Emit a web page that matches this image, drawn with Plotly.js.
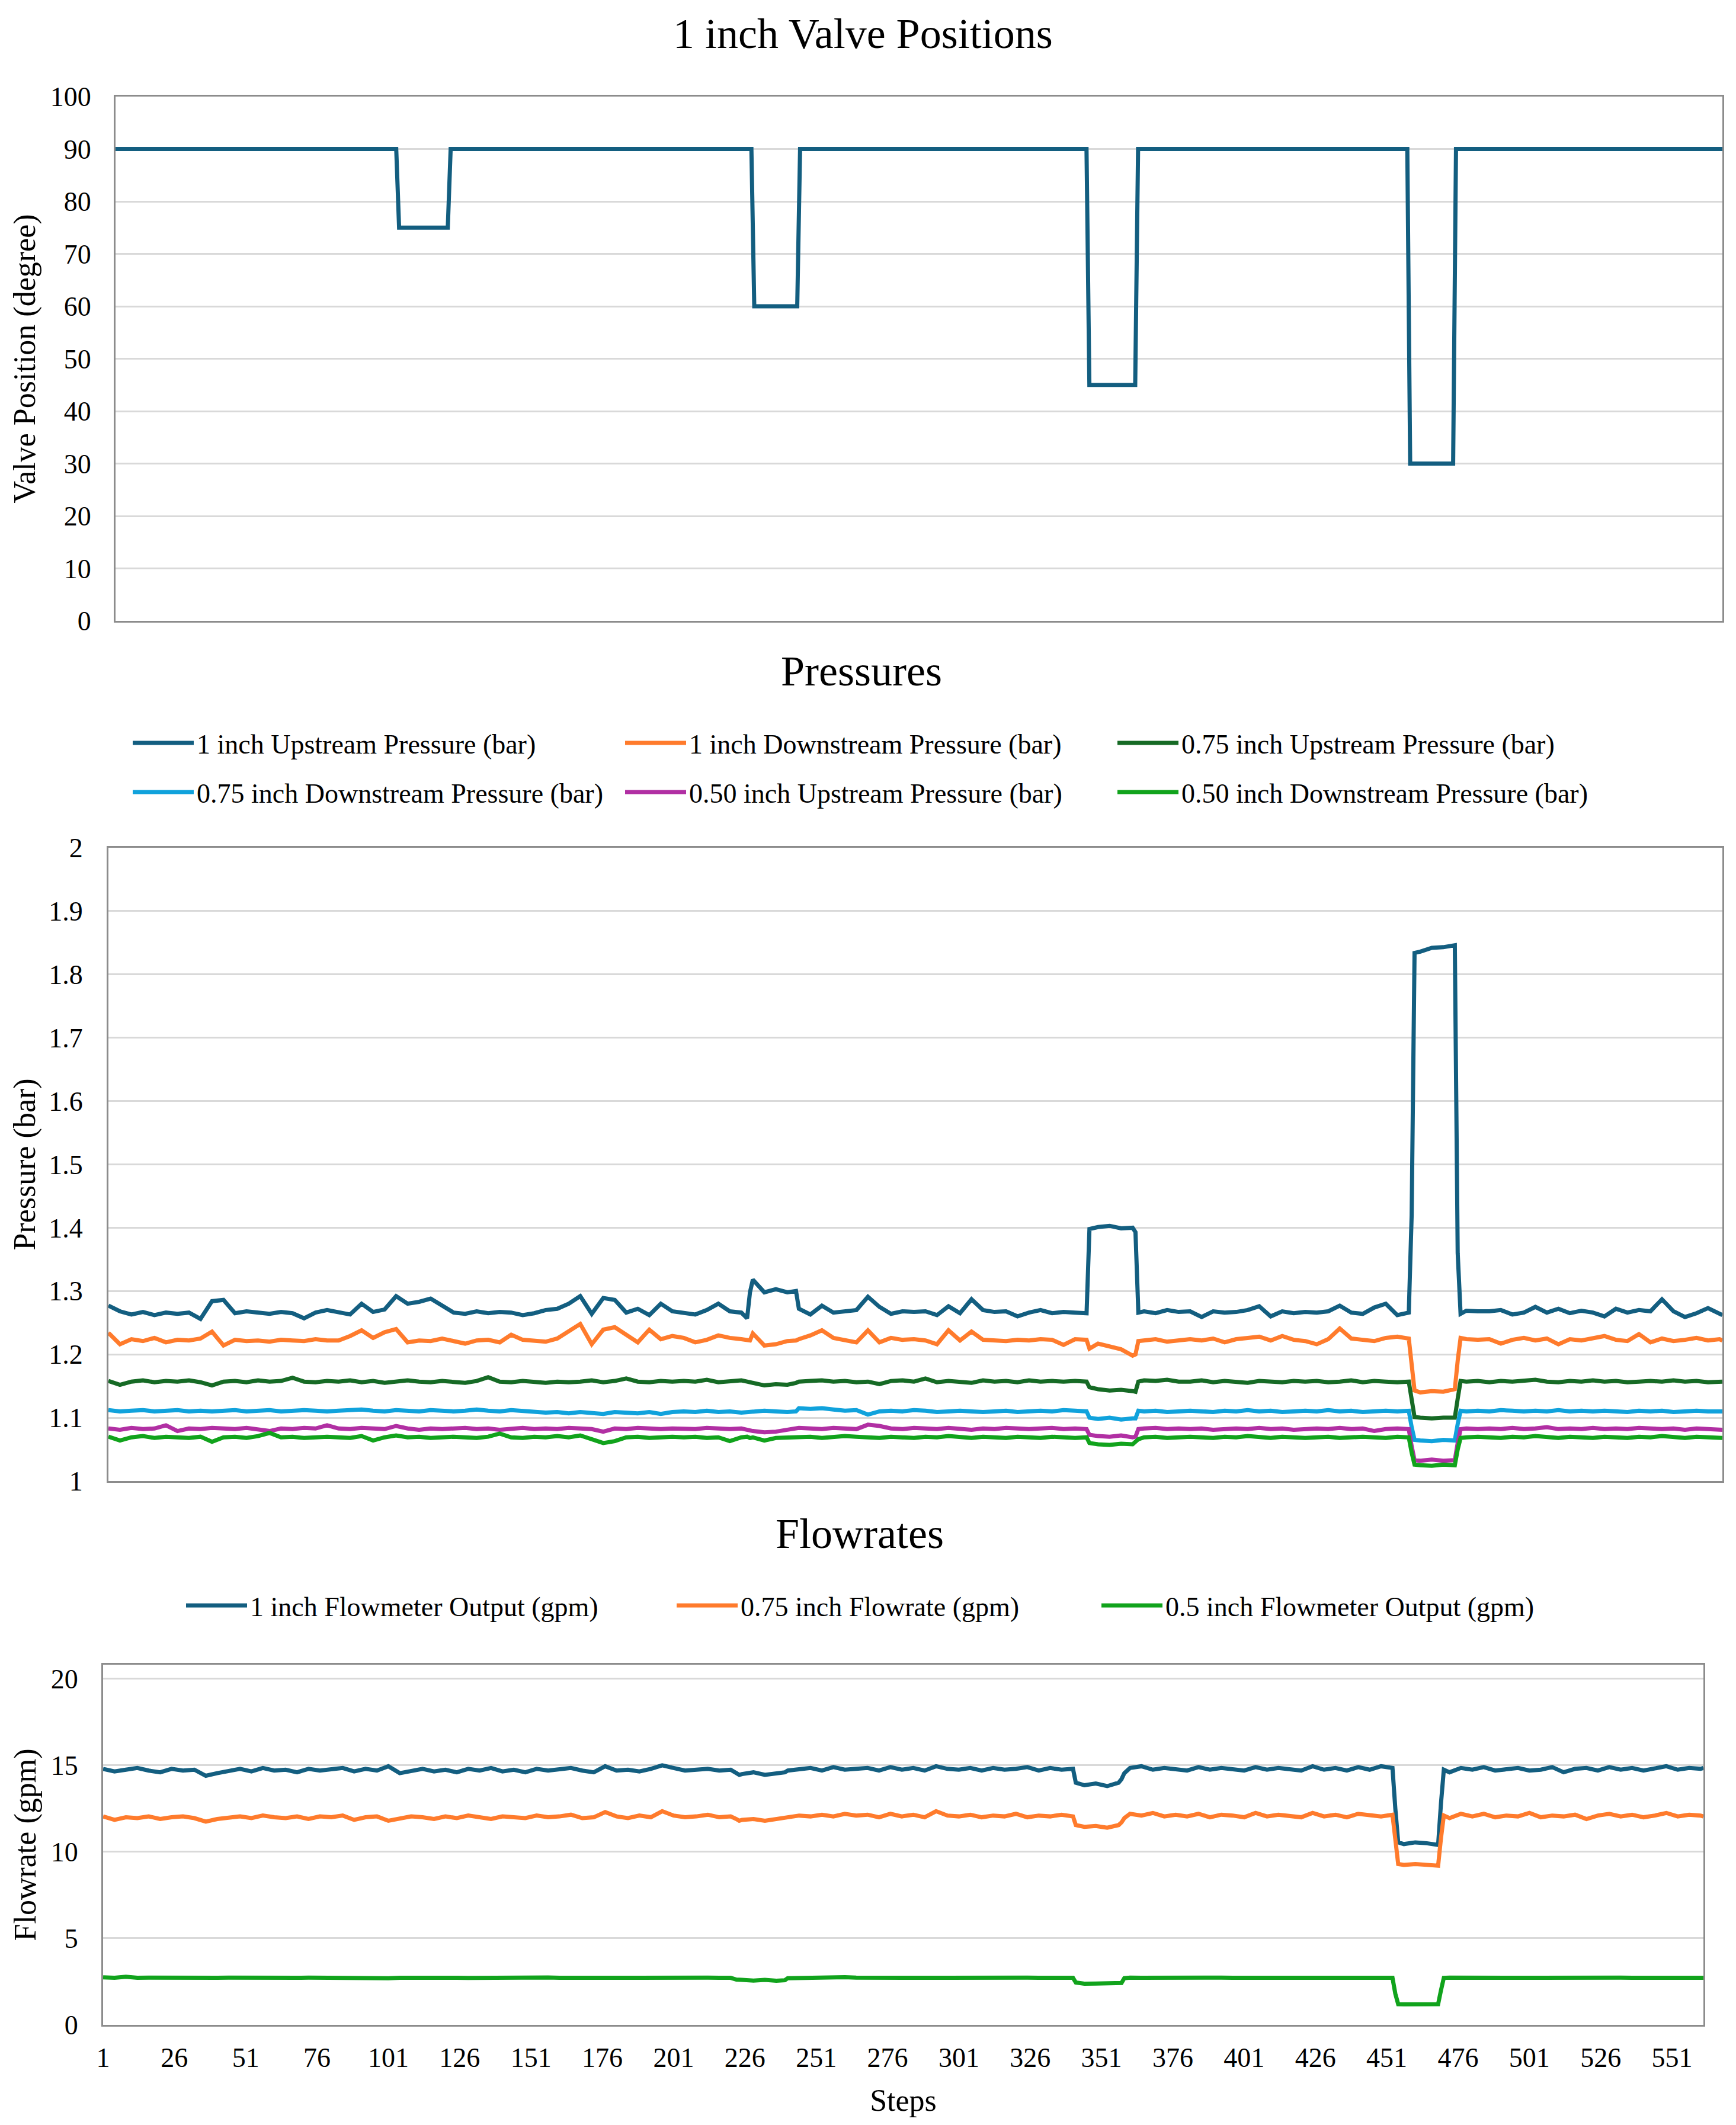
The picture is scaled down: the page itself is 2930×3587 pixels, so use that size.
<!DOCTYPE html>
<html>
<head>
<meta charset="utf-8">
<script src="https://cdn.plot.ly/plotly-3.0.1.min.js"></script>
<style>html,body{margin:0;padding:0;background:#fff;}</style>
</head>
<body>
<div id="chart"></div>
<script>
// ---------- DATA ----------
const VALVE_STEPS = [1, 99, 100, 117, 118, 223, 224, 239, 240, 340, 341, 357, 358, 452, 453, 468, 469, 562];
const VALVE_POS   = [90, 90, 75, 75, 90, 90, 60, 60, 90, 90, 45, 45, 90, 90, 30, 30, 90, 90];

const STEPS = [1,5,9,13,17,21,25,29,33,37,
41,45,49,53,57,61,65,69,73,77,
81,85,89,93,97,101,105,109,113,117,
121,125,129,133,137,141,145,149,153,157,
161,165,169,173,177,181,185,189,193,197,
201,205,209,213,217,221,223,224,225,229,
233,237,240,241,245,249,253,257,261,265,
269,273,277,281,285,289,293,297,301,305,
309,313,317,321,325,329,333,337,341,342,
345,349,353,357,358,359,361,365,369,373,
377,381,385,389,393,397,401,405,409,413,
417,421,425,429,433,437,441,445,449,453,
454,455,457,461,465,469,470,471,473,477,
481,485,489,493,497,501,505,509,513,517,
521,525,529,533,537,541,545,549,553,557,
561,562];

const UP_1IN = [1.277,1.268,1.263,1.267,1.262,1.266,1.264,1.266,1.256,1.284,
1.286,1.265,1.268,1.266,1.264,1.267,1.265,1.257,1.266,1.270,
1.266,1.263,1.280,1.267,1.271,1.292,1.280,1.283,1.288,1.277,
1.266,1.264,1.268,1.265,1.267,1.266,1.262,1.265,1.270,1.272,
1.280,1.292,1.264,1.289,1.286,1.266,1.272,1.262,1.280,1.268,
1.266,1.263,1.270,1.280,1.268,1.266,1.257,1.298,1.318,1.298,
1.303,1.298,1.300,1.272,1.263,1.277,1.266,1.268,1.270,1.291,
1.275,1.264,1.268,1.267,1.268,1.262,1.276,1.265,1.287,1.270,
1.267,1.268,1.260,1.266,1.270,1.265,1.267,1.266,1.265,1.398,
1.401,1.403,1.399,1.400,1.393,1.266,1.268,1.265,1.270,1.267,
1.268,1.259,1.268,1.266,1.267,1.270,1.276,1.260,1.268,1.265,
1.267,1.266,1.268,1.277,1.266,1.264,1.274,1.280,1.262,1.266,
1.420,1.834,1.836,1.842,1.843,1.846,1.360,1.264,1.269,1.268,
1.268,1.270,1.263,1.266,1.275,1.266,1.272,1.265,1.269,1.266,
1.260,1.272,1.266,1.270,1.268,1.287,1.268,1.259,1.265,1.273,
1.263,1.262];

const DOWN_1IN = [1.234,1.216,1.224,1.221,1.226,1.219,1.223,1.222,1.225,1.236,
1.214,1.223,1.221,1.222,1.220,1.223,1.222,1.221,1.224,1.222,
1.222,1.229,1.238,1.226,1.235,1.240,1.219,1.222,1.221,1.225,
1.221,1.217,1.222,1.223,1.219,1.231,1.223,1.222,1.220,1.225,
1.236,1.248,1.216,1.239,1.243,1.230,1.219,1.239,1.224,1.229,
1.226,1.219,1.223,1.230,1.226,1.224,1.223,1.222,1.233,1.214,
1.216,1.221,1.222,1.224,1.230,1.238,1.226,1.222,1.219,1.238,
1.219,1.226,1.223,1.224,1.222,1.216,1.238,1.222,1.236,1.223,
1.222,1.221,1.223,1.222,1.224,1.223,1.215,1.224,1.223,1.209,
1.217,1.212,1.208,1.198,1.200,1.221,1.222,1.224,1.220,1.222,
1.224,1.222,1.225,1.219,1.224,1.226,1.228,1.222,1.229,1.223,
1.221,1.216,1.224,1.241,1.225,1.223,1.221,1.226,1.228,1.225,
1.180,1.143,1.140,1.142,1.141,1.145,1.190,1.226,1.224,1.223,
1.224,1.217,1.223,1.226,1.222,1.225,1.216,1.224,1.222,1.225,
1.229,1.223,1.221,1.232,1.219,1.225,1.221,1.223,1.226,1.222,
1.224,1.222];

const UP_075 = [1.158,1.152,1.157,1.159,1.156,1.158,1.157,1.159,1.156,1.151,
1.157,1.158,1.156,1.159,1.157,1.158,1.163,1.157,1.156,1.158,
1.157,1.159,1.156,1.158,1.155,1.157,1.159,1.157,1.156,1.158,
1.157,1.155,1.158,1.164,1.157,1.156,1.158,1.157,1.155,1.157,
1.156,1.157,1.159,1.156,1.158,1.162,1.157,1.156,1.158,1.157,
1.158,1.157,1.160,1.156,1.158,1.159,1.157,1.156,1.155,1.151,
1.153,1.152,1.155,1.157,1.158,1.159,1.157,1.158,1.156,1.157,
1.153,1.158,1.159,1.157,1.162,1.156,1.158,1.157,1.155,1.159,
1.157,1.158,1.156,1.159,1.157,1.158,1.157,1.158,1.157,1.148,
1.145,1.143,1.144,1.142,1.141,1.157,1.159,1.158,1.160,1.157,
1.157,1.159,1.156,1.158,1.157,1.155,1.158,1.157,1.156,1.158,
1.157,1.158,1.156,1.157,1.159,1.156,1.158,1.157,1.156,1.157,
1.125,1.101,1.100,1.099,1.100,1.100,1.130,1.158,1.157,1.158,
1.156,1.158,1.157,1.159,1.160,1.157,1.156,1.158,1.157,1.159,
1.157,1.158,1.156,1.157,1.158,1.157,1.159,1.157,1.158,1.156,
1.157,1.157];

const DOWN_075 = [1.112,1.110,1.111,1.112,1.110,1.111,1.112,1.110,1.111,1.110,
1.111,1.112,1.110,1.111,1.112,1.110,1.111,1.112,1.111,1.110,
1.111,1.112,1.113,1.111,1.110,1.112,1.111,1.110,1.112,1.111,
1.110,1.111,1.113,1.111,1.110,1.112,1.111,1.109,1.108,1.109,
1.107,1.109,1.108,1.106,1.109,1.108,1.107,1.109,1.106,1.109,
1.110,1.109,1.111,1.109,1.110,1.108,1.109,1.110,1.109,1.111,
1.110,1.109,1.110,1.115,1.114,1.115,1.113,1.111,1.112,1.105,
1.110,1.111,1.110,1.112,1.111,1.109,1.110,1.111,1.110,1.109,
1.110,1.111,1.109,1.110,1.111,1.110,1.112,1.111,1.110,1.100,
1.098,1.100,1.097,1.099,1.099,1.111,1.110,1.111,1.109,1.110,
1.111,1.110,1.109,1.111,1.110,1.112,1.110,1.111,1.109,1.110,
1.111,1.110,1.112,1.110,1.111,1.109,1.110,1.111,1.110,1.111,
1.085,1.065,1.064,1.063,1.065,1.064,1.090,1.111,1.110,1.111,
1.110,1.112,1.111,1.110,1.111,1.110,1.112,1.110,1.111,1.110,
1.111,1.110,1.109,1.111,1.110,1.111,1.109,1.110,1.111,1.110,
1.109,1.110];

const UP_050 = [1.083,1.081,1.084,1.082,1.083,1.088,1.079,1.083,1.082,1.084,
1.083,1.082,1.084,1.081,1.079,1.083,1.082,1.084,1.083,1.088,
1.083,1.082,1.084,1.083,1.082,1.087,1.083,1.081,1.083,1.082,
1.083,1.084,1.082,1.083,1.081,1.083,1.084,1.082,1.083,1.082,
1.084,1.083,1.082,1.078,1.083,1.082,1.084,1.083,1.082,1.083,
1.083,1.082,1.084,1.083,1.082,1.083,1.081,1.080,1.079,1.077,
1.078,1.081,1.083,1.084,1.083,1.082,1.084,1.083,1.082,1.089,
1.087,1.083,1.082,1.084,1.083,1.082,1.084,1.083,1.081,1.083,
1.082,1.084,1.083,1.082,1.083,1.084,1.082,1.083,1.082,1.073,
1.071,1.070,1.072,1.069,1.070,1.082,1.083,1.084,1.082,1.083,
1.082,1.083,1.081,1.082,1.083,1.082,1.084,1.082,1.083,1.081,
1.082,1.083,1.082,1.084,1.082,1.083,1.079,1.082,1.083,1.082,
1.055,1.033,1.032,1.034,1.032,1.033,1.060,1.082,1.083,1.082,
1.083,1.082,1.084,1.082,1.083,1.085,1.082,1.083,1.082,1.084,
1.082,1.083,1.082,1.084,1.083,1.082,1.083,1.081,1.083,1.082,
1.082,1.081];

const DOWN_050 = [1.070,1.064,1.069,1.071,1.068,1.070,1.069,1.068,1.070,1.062,
1.069,1.070,1.068,1.071,1.076,1.069,1.070,1.068,1.069,1.070,
1.069,1.068,1.071,1.064,1.069,1.072,1.069,1.070,1.068,1.069,
1.070,1.069,1.068,1.070,1.075,1.069,1.068,1.070,1.069,1.071,
1.069,1.072,1.066,1.060,1.063,1.069,1.070,1.068,1.069,1.070,
1.069,1.070,1.068,1.069,1.063,1.069,1.070,1.068,1.069,1.064,
1.068,1.069,1.070,1.069,1.070,1.068,1.069,1.071,1.070,1.069,
1.068,1.070,1.069,1.068,1.070,1.069,1.071,1.069,1.068,1.070,
1.069,1.068,1.070,1.069,1.068,1.070,1.069,1.068,1.069,1.060,
1.058,1.057,1.059,1.058,1.062,1.066,1.069,1.070,1.068,1.069,
1.070,1.069,1.068,1.070,1.069,1.071,1.069,1.068,1.070,1.069,
1.068,1.069,1.070,1.068,1.069,1.070,1.069,1.068,1.070,1.069,
1.045,1.026,1.025,1.024,1.026,1.025,1.050,1.068,1.069,1.070,
1.069,1.068,1.070,1.069,1.071,1.069,1.068,1.070,1.069,1.068,
1.070,1.069,1.068,1.070,1.069,1.071,1.069,1.068,1.070,1.069,
1.069,1.068];

const FLOW_1IN = [14.80,14.65,14.75,14.85,14.70,14.60,14.80,14.70,14.75,14.40,
14.55,14.70,14.80,14.65,14.85,14.70,14.75,14.60,14.80,14.70,
14.75,14.85,14.65,14.80,14.70,14.95,14.55,14.70,14.80,14.65,
14.75,14.60,14.80,14.70,14.85,14.65,14.75,14.60,14.80,14.70,
14.75,14.85,14.70,14.60,14.95,14.70,14.75,14.65,14.80,15.00,
14.85,14.70,14.75,14.80,14.70,14.75,14.55,14.45,14.50,14.60,
14.45,14.55,14.60,14.70,14.80,14.85,14.70,14.90,14.75,14.80,
14.85,14.70,14.90,14.75,14.85,14.70,14.95,14.80,14.75,14.85,
14.70,14.85,14.75,14.80,14.90,14.70,14.85,14.75,14.80,14.00,
13.85,13.95,13.80,14.00,14.20,14.55,14.85,14.95,14.75,14.85,
14.80,14.70,14.90,14.75,14.85,14.80,14.70,14.90,14.75,14.85,
14.80,14.70,14.95,14.75,14.85,14.70,14.90,14.75,14.95,14.85,
12.50,10.55,10.45,10.55,10.50,10.40,12.80,14.75,14.60,14.85,
14.75,14.90,14.70,14.80,14.85,14.70,14.75,14.90,14.60,14.80,
14.85,14.70,14.90,14.75,14.85,14.70,14.80,14.95,14.75,14.85,
14.80,14.85];

const FLOW_075 = [12.05,11.85,12.00,11.95,12.05,11.90,12.00,12.05,11.95,11.75,
11.90,12.00,12.05,11.95,12.10,12.00,11.95,12.05,11.90,12.05,
12.00,12.10,11.85,12.00,12.05,11.80,11.95,12.05,12.00,11.90,
12.05,11.95,12.10,12.00,11.90,12.05,12.00,11.95,12.10,12.00,
12.05,12.15,11.95,12.00,12.30,12.05,11.95,12.10,12.00,12.35,
12.10,12.00,12.05,12.15,12.00,12.05,11.90,11.80,11.85,11.90,
11.80,11.90,11.95,12.00,12.10,12.05,12.15,12.05,12.20,12.10,
12.15,12.00,12.20,12.05,12.15,12.00,12.35,12.10,12.05,12.15,
12.00,12.10,12.05,12.20,12.00,12.10,12.05,12.15,12.05,11.55,
11.45,11.50,11.40,11.55,11.70,11.95,12.20,12.10,12.25,12.05,
12.15,12.05,12.20,12.00,12.15,12.10,12.00,12.25,12.05,12.15,
12.10,12.00,12.25,12.05,12.15,12.00,12.20,12.10,12.05,12.15,
10.80,9.30,9.25,9.30,9.25,9.20,10.80,12.10,11.95,12.20,
12.05,12.20,12.00,12.10,12.05,12.25,12.00,12.10,12.05,12.15,
11.90,12.10,12.20,12.05,12.15,12.00,12.10,12.25,12.05,12.15,
12.10,12.05];

const FLOW_050 = [2.75,2.72,2.78,2.72,2.73,2.72,2.74,2.72,2.73,2.70,
2.72,2.73,2.72,2.73,2.72,2.73,2.72,2.72,2.73,2.72,
2.73,2.72,2.72,2.73,2.72,2.70,2.72,2.73,2.72,2.72,
2.73,2.72,2.71,2.72,2.73,2.72,2.72,2.73,2.72,2.74,
2.72,2.73,2.72,2.71,2.72,2.73,2.72,2.72,2.73,2.72,
2.73,2.72,2.72,2.73,2.72,2.72,2.62,2.58,2.60,2.56,
2.60,2.55,2.58,2.70,2.72,2.73,2.75,2.72,2.76,2.73,
2.72,2.73,2.72,2.71,2.72,2.73,2.72,2.72,2.73,2.71,
2.72,2.73,2.72,2.72,2.73,2.72,2.72,2.73,2.72,2.45,
2.38,2.39,2.38,2.40,2.42,2.70,2.73,2.72,2.73,2.72,
2.72,2.73,2.72,2.72,2.73,2.72,2.72,2.73,2.72,2.72,
2.73,2.72,2.72,2.73,2.72,2.71,2.72,2.73,2.72,2.72,
1.80,1.20,1.19,1.20,1.19,1.20,2.00,2.72,2.73,2.72,
2.72,2.73,2.72,2.72,2.73,2.72,2.72,2.73,2.72,2.72,
2.73,2.72,2.72,2.73,2.72,2.72,2.73,2.72,2.72,2.73,
2.72,2.72];

const PRESSURE_NAMES = ['1 inch Upstream Pressure (bar)', '1 inch Downstream Pressure (bar)',
  '0.75 inch Upstream Pressure (bar)', '0.75 inch Downstream Pressure (bar)',
  '0.50 inch Upstream Pressure (bar)', '0.50 inch Downstream Pressure (bar)'];
const FLOW_NAMES = ['1 inch Flowmeter Output (gpm)', '0.75 inch Flowrate (gpm)', '0.5 inch Flowmeter Output (gpm)'];
const X_TICKS = [1,26,51,76,101,126,151,176,201,226,251,276,301,326,351,376,401,426,451,476,501,526,551];

// ---------- STYLE ----------
const FONT = '"Liberation Serif", "Times New Roman", serif';
const C_BLUE = '#135E80', C_ORANGE = '#FF7B2C', C_DKGREEN = '#166A25',
      C_LTBLUE = '#10A2DC', C_MAGENTA = '#B12FA3', C_GREEN = '#11A31C';
const LW = 7;
const W = 2930, H = 3587;
const px = v => v / W;
const py = v => 1 - v / H;

const traces = [];
traces.push({x: VALVE_STEPS, y: VALVE_POS, xaxis: 'x', yaxis: 'y', mode: 'lines',
  line: {color: C_BLUE, width: LW}, showlegend: false, name: 'Valve Position'});

const pData = [UP_1IN, DOWN_1IN, UP_075, DOWN_075, UP_050, DOWN_050];
const pColors = [C_BLUE, C_ORANGE, C_DKGREEN, C_LTBLUE, C_MAGENTA, C_GREEN];
const pLegends = ['legend', 'legend2', 'legend3', 'legend4', 'legend5', 'legend6'];
pData.forEach((d, i) => traces.push({x: STEPS, y: d, xaxis: 'x2', yaxis: 'y2', mode: 'lines',
  name: PRESSURE_NAMES[i], legend: pLegends[i], line: {color: pColors[i], width: LW}}));

const fData = [FLOW_1IN, FLOW_075, FLOW_050];
const fColors = [C_BLUE, C_ORANGE, C_GREEN];
const fLegends = ['legend7', 'legend8', 'legend9'];
fData.forEach((d, i) => traces.push({x: STEPS, y: d, xaxis: 'x3', yaxis: 'y3', mode: 'lines',
  name: FLOW_NAMES[i], legend: fLegends[i], line: {color: fColors[i], width: LW}}));

function leg(xLine, yc) {
  return {x: px(xLine - 5), y: py(yc), xanchor: 'left', yanchor: 'middle', orientation: 'h',
    bgcolor: 'rgba(0,0,0,0)', borderwidth: 0, itemwidth: 103,
    font: {family: FONT, size: 46, color: '#000'}};
}

const axLine = {showline: true, mirror: true, linecolor: '#8c8c8c', linewidth: 3, zeroline: false, ticks: ''};
const yBase = Object.assign({}, axLine, {gridcolor: '#d9d9d9', gridwidth: 3,
  tickfont: {family: FONT, size: 46, color: '#000'}});
const xBase = Object.assign({}, axLine, {range: [1, 562], showgrid: false});
const titleFont = {family: FONT, size: 52, color: '#000'};

const layout = {
  width: W, height: H, autosize: false,
  margin: {l: 0, r: 0, t: 0, b: 0},
  paper_bgcolor: '#ffffff', plot_bgcolor: '#ffffff',
  font: {family: FONT, size: 46, color: '#000'},
  xaxis: Object.assign({}, xBase, {domain: [px(195), px(2907)], showticklabels: false, anchor: 'y'}),
  yaxis: Object.assign({}, yBase, {domain: [py(1048), py(163)], range: [0, 100], dtick: 10, tick0: 0, anchor: 'x',
    ticklabelstandoff: 29,
    title: {text: 'Valve Position (degree)', font: titleFont, standoff: 9}}),
  xaxis2: Object.assign({}, xBase, {domain: [px(183), px(2907)], showticklabels: false, anchor: 'y2'}),
  yaxis2: Object.assign({}, yBase, {domain: [py(2500), py(1431)], range: [1, 2], dtick: 0.1, tick0: 1, anchor: 'x2',
    ticklabelstandoff: 31,
    title: {text: 'Pressure (bar)', font: titleFont, standoff: 7}}),
  xaxis3: Object.assign({}, xBase, {domain: [px(174), px(2875)], anchor: 'y3', tickmode: 'array', tickvals: X_TICKS,
    ticktext: X_TICKS.map(String), ticklabelstandoff: 13, tickfont: {family: FONT, size: 46, color: '#000'},
    title: {text: 'Steps', font: titleFont, standoff: 29}}),
  yaxis3: Object.assign({}, yBase, {domain: [py(3418), py(2810)], range: [0, 20.82], dtick: 5, tick0: 0, anchor: 'x3',
    ticklabelstandoff: 30,
    title: {text: 'Flowrate (gpm)', font: titleFont, standoff: 9}}),
  legend: leg(224, 1254), legend2: leg(1055, 1254), legend3: leg(1886, 1254),
  legend4: leg(224, 1337), legend5: leg(1055, 1337), legend6: leg(1886, 1337),
  legend7: leg(314, 2710), legend8: leg(1142, 2710), legend9: leg(1859, 2710),
  annotations: [
    {text: '1 inch Valve Positions', x: px(1456), y: py(57), xref: 'paper', yref: 'paper',
      xanchor: 'center', yanchor: 'middle', showarrow: false, font: {family: FONT, size: 72, color: '#000'}},
    {text: 'Pressures', x: px(1454), y: py(1133), xref: 'paper', yref: 'paper',
      xanchor: 'center', yanchor: 'middle', showarrow: false, font: {family: FONT, size: 72, color: '#000'}},
    {text: 'Flowrates', x: px(1451), y: py(2589), xref: 'paper', yref: 'paper',
      xanchor: 'center', yanchor: 'middle', showarrow: false, font: {family: FONT, size: 72, color: '#000'}}
  ]
};

Plotly.newPlot('chart', traces, layout, {displayModeBar: false, staticPlot: true});
</script>
</body>
</html>
